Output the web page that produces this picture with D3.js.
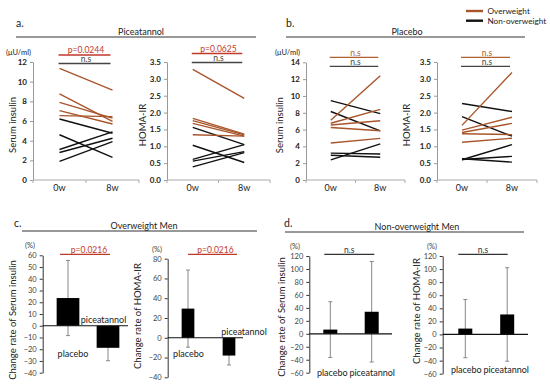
<!DOCTYPE html>
<html><head><meta charset="utf-8">
<script src="https://cdn.jsdelivr.net/npm/d3@7"></script>
<style>
html,body{margin:0;padding:0;background:#fff;}
svg{display:block;font-family:Lato,"Open Sans",sans-serif;}
</style></head><body>
<svg id="fig" width="550" height="384"></svg>
<script>
// ---- data ----------------------------------------------------------------
var WEEKS = ["0w", "8w"];
var GROUPS = ["placebo", "piceatannol"];

// each pair = [0w, 8w]
var PIC_INS_OVER  = [[11.35, 9.15], [8.75, 5.95], [7.9, 6.3], [7.05, 5.7], [6.55, 6.45]];
var PIC_INS_NORM  = [[6.2, 4.75], [4.6, 2.3], [3.1, 4.9], [2.8, 4.25], [1.9, 3.9]];
var PIC_HOMA_OVER = [[3.28, 2.42], [1.83, 1.36], [1.76, 1.34], [1.68, 1.3], [1.34, 1.3]];
var PIC_HOMA_NORM = [[1.56, 1.05], [1.03, 0.52], [0.61, 1.05], [0.56, 0.84], [0.39, 0.81]];
var PLA_INS_OVER  = [[7.1, 12.4], [6.75, 8.4], [6.55, 7.05], [6.25, 5.85], [4.4, 4.95]];
var PLA_INS_NORM  = [[9.45, 7.9], [8.15, 5.85], [3.2, 3.1], [2.95, 2.7], [2.4, 4.3]];
var PLA_HOMA_OVER = [[1.62, 3.19], [1.48, 1.86], [1.41, 1.68], [1.37, 1.35], [1.12, 1.24]];
var PLA_HOMA_NORM = [[2.27, 2.03], [1.88, 1.3], [0.63, 0.53], [0.61, 0.7], [0.6, 1.05]];

// change rate (%), [placebo, piceatannol]
var OW_INS_MEAN = [23.6, -18.8],  OW_INS_SD = [32, 11];
var OW_HOMA_MEAN = [29.5, -18],   OW_HOMA_SD = [39, 9.5];
var NOW_INS_MEAN = [6.5, 34],     NOW_INS_SD = [43, 77.5];
var NOW_HOMA_MEAN = [9, 30.6],    NOW_HOMA_SD = [44.5, 71.5];

var TICKS_INS_A = [0, 2, 4, 6, 8, 10, 12];
var TICKS_INS_B = [0, 2, 4, 6, 8, 10, 12, 14];
var TICKS_HOMA  = [0, 0.5, 1, 1.5, 2, 2.5, 3, 3.5];
var TICKS_C1 = [-40, -30, -20, -10, 0, 10, 20, 30, 40, 50, 60];
var TICKS_C2 = [-40, -20, 0, 20, 40, 60, 80];
var TICKS_D  = [-60, -40, -20, 0, 20, 40, 60, 80, 100, 120];

var COL = { over: "#A9552B", red: "#C0392B", brownSig: "#B0602E", black: "#111" };

var svg = d3.select("#fig");

function txt(g, x, y, s, size, opts) {
  opts = opts || {};
  var t = g.append("text").attr("x", x).attr("y", y)
    .attr("text-anchor", opts.anchor || "start")
    .attr("fill", opts.fill || "#222").style("font-size", size + "px").text(s);
  if (opts.rot) t.attr("transform", "rotate(-90," + x + "," + y + ")");
  if (opts.weight) t.style("font-weight", opts.weight);
  return t;
}

// ---- panel headers --------------------------------------------------------
function header(letter, lx, ly, title, tx, x0, x1, yl) {
  var g = svg.append("g");
  txt(g, lx, ly, letter, 10.5);
  g.append("line").attr("x1", x0).attr("x2", x1).attr("y1", yl).attr("y2", yl)
    .attr("stroke", "#333").attr("stroke-width", 1);
  txt(g, tx, yl - 1.8, title, 9, { anchor: "middle" });
}
header("a.", 16, 27, "Piceatannol", 141, 16, 256, 37);
header("b.", 286, 27, "Placebo", 407, 286, 525, 37);
header("c.", 14, 227, "Overweight Men", 144, 22, 257, 231);
header("d.", 284, 227, "Non-overweight Men", 417, 285, 524, 232);

// legend
(function () {
  var g = svg.append("g");
  [["Overweight", COL.over], ["Non-overweight", COL.black]].forEach(function (d, i) {
    var y = 11 + i * 9.7;
    g.append("line").attr("x1", 466).attr("x2", 483).attr("y1", y).attr("y2", y)
      .attr("stroke", d[1]).attr("stroke-width", 2.4);
    txt(g, 487.5, y + 3, d[0], 8.2);
  });
})();

// ---- paired line charts ---------------------------------------------------
function lineChart(cfg) {
  var x = d3.scaleBand().domain(WEEKS).range([cfg.x0, cfg.x1]);
  var y = d3.scaleLinear().domain([0, cfg.max]).range([cfg.yb, cfg.yt]);
  var cx = function (w) { return x(w) + x.bandwidth() / 2; };
  var g = svg.append("g");

  var ay = g.append("g").attr("transform", "translate(" + cfg.x0 + ",0)")
    .call(d3.axisLeft(y).tickValues(cfg.ticks).tickSize(3).tickSizeOuter(0).tickPadding(3));
  ay.selectAll("path,line").attr("stroke", "#999");
  ay.selectAll("text").attr("fill", "#222").style("font-size", "8px")
    .style("font-weight", "bold").style("font-family", "Lato, sans-serif");

  // x axis with ticks at band edges
  g.append("line").attr("x1", cfg.x0).attr("x2", cfg.x1)
    .attr("y1", y(0)).attr("y2", y(0)).attr("stroke", "#aaa");
  var edges = [cfg.x0, x("8w"), cfg.x1];
  g.selectAll(".xt").data(edges).enter().append("line")
    .attr("x1", function (d) { return d; }).attr("x2", function (d) { return d; })
    .attr("y1", y(0)).attr("y2", y(0) + 3).attr("stroke", "#aaa");
  WEEKS.forEach(function (w) { txt(g, cx(w), y(0) + 11, w, 9, { anchor: "middle" }); });

  // y title + unit
  txt(g, cfg.titleX, (cfg.yb + cfg.yt) / 2 + 4, cfg.title, 9.5, { anchor: "middle", rot: true });
  if (cfg.unitX != null) txt(g, cfg.unitX, cfg.yt - 7, "(\u03bcU/ml)", 7.5);

  function draw(rows, col) {
    g.append("g").selectAll("line").data(rows).enter().append("line")
      .attr("x1", cx("0w")).attr("x2", cx("8w"))
      .attr("y1", function (d) { return y(d[0]); })
      .attr("y2", function (d) { return y(d[1]); })
      .attr("stroke", col).attr("stroke-width", 1.4);
  }
  draw(cfg.norm, COL.black);
  draw(cfg.over, COL.over);

  cfg.sig.forEach(function (s) {
    var yy = cfg.yt + s.dy;
    g.append("line").attr("x1", cx("0w") - 1).attr("x2", cx("8w") - 2)
      .attr("y1", yy).attr("y2", yy).attr("stroke", s.col).attr("stroke-width", 1.3);
    txt(g, (cx("0w") + cx("8w")) / 2, yy - 1.6, s.label, 8.5, { anchor: "middle", fill: s.col });
  });
}

lineChart({ x0: 33, x1: 139, yb: 180, yt: 62, max: 12, ticks: TICKS_INS_A,
  over: PIC_INS_OVER, norm: PIC_INS_NORM, title: "Serum insulin", titleX: 16, unitX: 6,
  sig: [{ label: "p=0.0244", col: COL.red, dy: -7 }, { label: "n.s", col: "#444", dy: 1.5 }] });
lineChart({ x0: 167, x1: 270, yb: 180, yt: 62, max: 3.5, ticks: TICKS_HOMA,
  over: PIC_HOMA_OVER, norm: PIC_HOMA_NORM, title: "HOMA-IR", titleX: 146,
  sig: [{ label: "p=0.0625", col: COL.red, dy: -8.5 }, { label: "n.s", col: "#444", dy: 0.5 }] });
lineChart({ x0: 306, x1: 405, yb: 180, yt: 62.3, max: 14, ticks: TICKS_INS_B,
  over: PLA_INS_OVER, norm: PLA_INS_NORM, title: "Serum insulin", titleX: 283, unitX: 275,
  sig: [{ label: "n.s", col: COL.brownSig, dy: -5 }, { label: "n.s", col: "#444", dy: 4 }] });
lineChart({ x0: 437, x1: 537, yb: 180, yt: 62, max: 3.5, ticks: TICKS_HOMA,
  over: PLA_HOMA_OVER, norm: PLA_HOMA_NORM, title: "HOMA-IR", titleX: 410,
  sig: [{ label: "n.s", col: COL.brownSig, dy: -4.7 }, { label: "n.s", col: "#444", dy: 4.3 }] });

// ---- change-rate bar charts -----------------------------------------------
function barChart(cfg) {
  var x = d3.scalePoint().domain(GROUPS).range([cfg.c0, cfg.c1]);
  var y = d3.scaleLinear().domain(cfg.domain).range([cfg.yb, cfg.yt]);
  var g = svg.append("g");

  var ay = g.append("g").attr("transform", "translate(" + cfg.ax + ",0)")
    .call(d3.axisLeft(y).tickValues(cfg.ticks).tickSize(3).tickSizeOuter(0).tickPadding(3));
  ay.selectAll("path,line").attr("stroke", "#333");
  ay.selectAll("text").attr("fill", "#444").style("font-size", "7.5px")
    .style("font-family", "Lato, sans-serif");

  txt(g, cfg.titleX, cfg.titleY, cfg.title, 9.5, { anchor: "middle", rot: true });
  txt(g, cfg.unitX, cfg.yt - 7, "(%)", 7.5, { anchor: "middle", fill: "#444" });

  var rows = GROUPS.map(function (k, i) { return { k: k, m: cfg.mean[i], sd: cfg.sd[i] }; });
  // error bars (behind)
  var eb = g.append("g").attr("stroke", "#888").attr("stroke-width", 1);
  rows.forEach(function (d) {
    var xx = x(d.k);
    eb.append("line").attr("x1", xx).attr("x2", xx).attr("y1", y(d.m + d.sd)).attr("y2", y(d.m - d.sd));
    [d.m + d.sd, d.m - d.sd].forEach(function (v) {
      eb.append("line").attr("x1", xx - 2).attr("x2", xx + 2).attr("y1", y(v)).attr("y2", y(v));
    });
  });
  g.append("g").selectAll("rect").data(rows).enter().append("rect")
    .attr("x", function (d) { return x(d.k) - cfg.bw / 2; })
    .attr("width", cfg.bw)
    .attr("y", function (d) { return y(Math.max(0, d.m)); })
    .attr("height", function (d) { return Math.abs(y(d.m) - y(0)); })
    .attr("fill", "#000");

  g.append("line").attr("x1", cfg.ax).attr("x2", cfg.xEnd)
    .attr("y1", y(0)).attr("y2", y(0)).attr("stroke", "#111").attr("stroke-width", 1.2);

  GROUPS.forEach(function (k, i) {
    txt(g, x(k) + cfg.lab[i][0], cfg.lab[i][1], k, 9, { anchor: "middle" });
  });

  var sy = 254.3, sc = cfg.sig.col;
  g.append("line").attr("x1", cfg.c0 + cfg.sig.l).attr("x2", cfg.c1 + cfg.sig.r)
    .attr("y1", sy).attr("y2", sy).attr("stroke", sc).attr("stroke-width", 1.2);
  txt(g, (cfg.c0 + cfg.sig.l + cfg.c1 + cfg.sig.r) / 2 + cfg.sig.dx, sy - 1.6, cfg.sig.label, 8.5,
    { anchor: "middle", fill: sc });
}

barChart({ ax: 42.7, xEnd: 128, c0: 68, c1: 108, bw: 22.7, domain: [-40, 60], yb: 372.7, yt: 255.3,
  ticks: TICKS_C1, mean: OW_INS_MEAN, sd: OW_INS_SD,
  title: "Change rate of Serum insulin", titleX: 16, titleY: 320, unitX: 30,
  lab: [[5, 357], [-4.5, 323]], sig: { label: "p=0.0216", col: COL.red, l: -8, r: 2, dx: 4 } });
barChart({ ax: 167.7, xEnd: 243, c0: 188, c1: 229, bw: 12.7, domain: [-40, 80], yb: 377.3, yt: 258.7,
  ticks: TICKS_C2, mean: OW_HOMA_MEAN, sd: OW_HOMA_SD,
  title: "Change rate of HOMA-IR", titleX: 141, titleY: 316, unitX: 157,
  lab: [[0.5, 357], [15, 334.5]], sig: { label: "p=0.0216", col: COL.red, l: 0, r: 8, dx: 3 } });
barChart({ ax: 309.3, xEnd: 392, c0: 330.3, c1: 371.7, bw: 14, domain: [-60, 120], yb: 372.7, yt: 256,
  ticks: TICKS_D, mean: NOW_INS_MEAN, sd: NOW_INS_SD,
  title: "Change rate of Serum insulin", titleX: 285, titleY: 317, unitX: 295,
  lab: [[2, 376], [0.5, 376]], sig: { label: "n.s", col: "#333", l: -6, r: 2.6, dx: 0 } });
barChart({ ax: 442.7, xEnd: 528, c0: 465.3, c1: 507.2, bw: 14, domain: [-60, 120], yb: 373.7, yt: 256,
  ticks: TICKS_D, mean: NOW_HOMA_MEAN, sd: NOW_HOMA_SD,
  title: "Change rate of HOMA-IR", titleX: 420, titleY: 311, unitX: 432,
  lab: [[1, 373], [-1, 373]], sig: { label: "n.s", col: "#333", l: -7, r: 0.5, dx: 0 } });
</script>
</body></html>
